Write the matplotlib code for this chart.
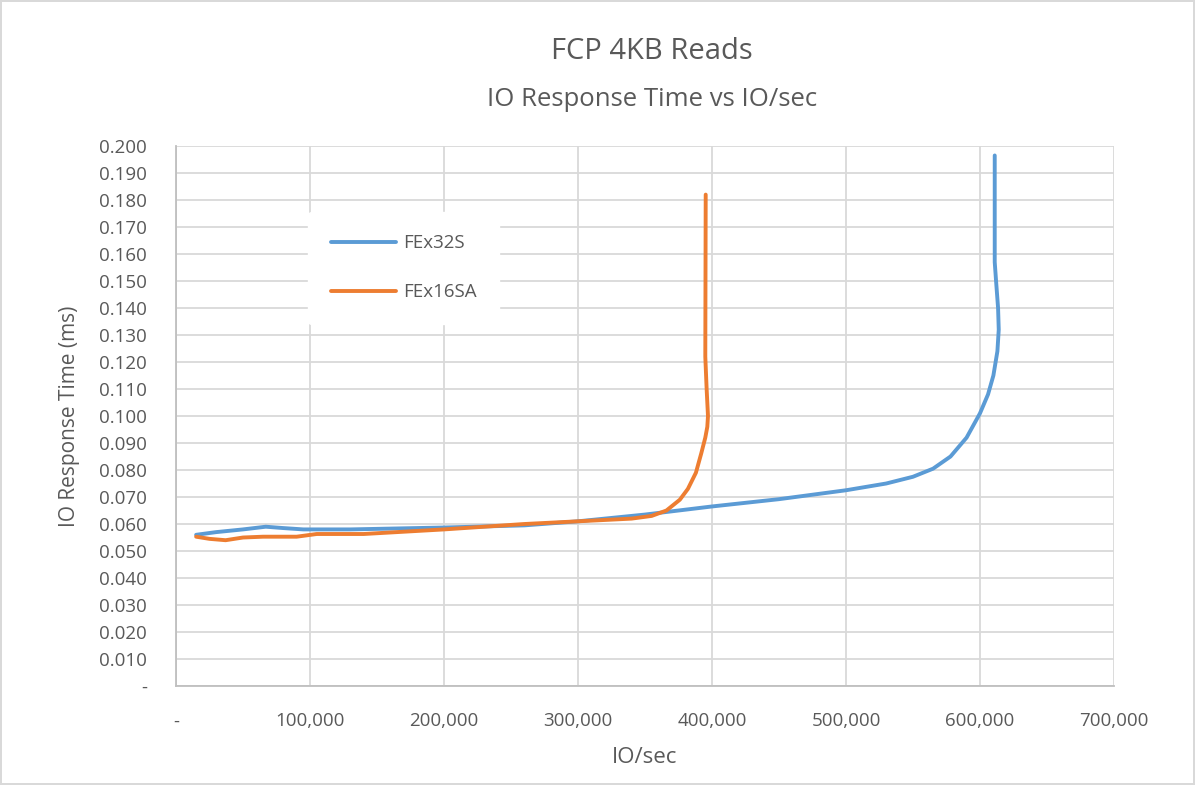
import matplotlib.pyplot as plt
from matplotlib.ticker import FuncFormatter, MultipleLocator

plt.rcParams['font.family'] = ['Open Sans', 'DejaVu Sans']

# FEx32S
iops_32s = [15000, 30000, 50000, 67000, 80000, 95000, 130000, 200000, 260000, 300000,
            350000, 400000, 450000, 500000, 530000, 550000, 565000, 578000, 590000,
            600000, 606000, 610000, 613000, 614000, 613500, 612000, 611000, 611000]
resp_32s = [0.0560, 0.0570, 0.0580, 0.0590, 0.0585, 0.0580, 0.0580, 0.0587, 0.0595, 0.0610,
            0.0635, 0.0665, 0.0692, 0.0725, 0.0750, 0.0775, 0.0805, 0.0850, 0.0920,
            0.1010, 0.1080, 0.1150, 0.1240, 0.1320, 0.1400, 0.1500, 0.1570, 0.1965]

# FEx16SA
iops_16sa = [15000, 25000, 37000, 50000, 65000, 90000, 105000, 140000, 200000, 260000,
             300000, 340000, 355000, 366000, 376000, 382000, 388000, 392000, 395000,
             396500, 397000, 396000, 395000, 395300]
resp_16sa = [0.0553, 0.0545, 0.0540, 0.0550, 0.0553, 0.0553, 0.0563, 0.0563, 0.0580, 0.0600,
             0.0610, 0.0620, 0.0630, 0.0650, 0.0690, 0.0730, 0.0790, 0.0862, 0.0920,
             0.0960, 0.1000, 0.1100, 0.1220, 0.1820]

fig = plt.figure(figsize=(11.95, 7.85), dpi=100, linewidth=1.5, edgecolor='#d9d9d9')
ax = fig.add_axes([0.1473, 0.1261, 0.7849, 0.6879])

ax.plot(iops_32s, resp_32s, color='#5B9BD5', linewidth=2.8, label='FEx32S',
        solid_capstyle='round', solid_joinstyle='round')
ax.plot(iops_16sa, resp_16sa, color='#ED7D31', linewidth=2.8, label='FEx16SA',
        solid_capstyle='round', solid_joinstyle='round')

ax.set_xlim(0, 700000)
ax.set_ylim(0, 0.2)
ax.xaxis.set_major_locator(MultipleLocator(100000))
ax.yaxis.set_major_locator(MultipleLocator(0.01))
ax.xaxis.set_major_formatter(FuncFormatter(lambda v, p: '-' if v == 0 else f'{v:,.0f}'))
ax.yaxis.set_major_formatter(FuncFormatter(lambda v, p: '-' if abs(v) < 1e-9 else f'{v:.3f}'))

ax.grid(True, color='#d9d9d9', linewidth=1.3)
ax.set_axisbelow(True)
for s in ['top', 'right']:
    ax.spines[s].set_visible(False)
for s in ['left', 'bottom']:
    ax.spines[s].set_color('#bfbfbf')
    ax.spines[s].set_linewidth(1.3)
ax.tick_params(length=0, labelsize=13.5, labelcolor='#595959')
ax.tick_params(axis='y', pad=21)
ax.tick_params(axis='x', pad=19)

ax.set_xlabel('IO/sec', fontsize=16, color='#595959', labelpad=12)
ax.set_ylabel('IO Response Time (ms)', fontsize=15, color='#595959', labelpad=14)

fig.text(0.5455, 0.935, 'FCP 4KB Reads', ha='center', va='center', fontsize=21, color='#595959')
fig.text(0.5455, 0.873, 'IO Response Time vs IO/sec', ha='center', va='center', fontsize=18.5, color='#595959')

leg = ax.legend(loc='upper left', bbox_to_anchor=(0.141, 0.878), frameon=True,
                fontsize=13.5, labelspacing=1.65, handlelength=3.5, borderpad=1.2,
                handletextpad=0.35, borderaxespad=0)
leg.get_frame().set_facecolor('white')
leg.get_frame().set_edgecolor('white')
leg.get_frame().set_alpha(1)
for t in leg.get_texts():
    t.set_color('#595959')

fig.savefig('out.png', dpi=100)
